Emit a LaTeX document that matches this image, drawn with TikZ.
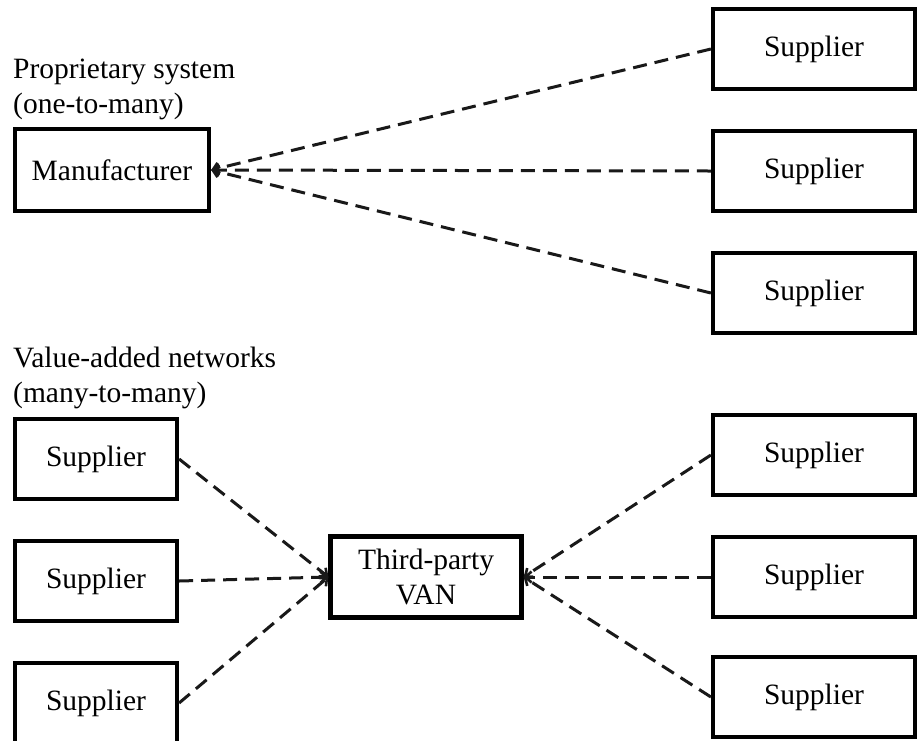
\documentclass[tikz,border=0pt]{standalone}
\usepackage{fontspec}
\setmainfont{Liberation Serif}
\usetikzlibrary{arrows.meta}
\begin{document}
\begin{tikzpicture}[x=1pt,y=-1pt,
  box/.style={draw=black,line width=4.2pt,fill=white,minimum height=80pt,inner sep=0pt,font=\fontsize{29.5}{32}\selectfont},
  wbox/.style={box,minimum width=202pt},
  sbox/.style={box,minimum width=162pt},
  link/.style={line width=3pt,dash pattern=on 14pt off 8pt,black!90,-{Straight Barb[length=6pt,width=11pt,line width=2.6pt]}},
  lbl/.style={anchor=base west,inner sep=0pt,font=\fontsize{29.5}{32}\selectfont}]
\useasboundingbox (0,0) rectangle (919,740);
\fill[white] (0,0) rectangle (919,740);
% labels
\node[lbl] (t1) at (13,78) {Proprietary system};
\node[lbl] (t2) at (13,113) {(one-to-many)};
\node[lbl] (t3) at (13,367) {Value-added networks};
\node[lbl] (t4) at (13,402) {(many-to-many)};
% top part
\node[box,minimum width=194pt,minimum height=82pt] (man) at (112,170) {Manufacturer};
\node[wbox] (s1) at (814,49) {Supplier};
\node[wbox] (s2) at (814,171) {Supplier};
\node[wbox] (s3) at (814,293) {Supplier};
% bottom part
\node[box,minimum width=191pt,minimum height=81pt,align=center,font=\fontsize{29.5}{35}\selectfont] (van) at (426,577) {Third-party\\VAN};
\node[sbox] (l1) at (96,459) {Supplier};
\node[sbox] (l2) at (96,581) {Supplier};
\node[sbox] (l3) at (96,703) {Supplier};
\node[wbox] (r1) at (814,455) {Supplier};
\node[wbox] (r2) at (814,577) {Supplier};
\node[wbox] (r3) at (814,697) {Supplier};
% connectors
\draw[link] (s1.west) -- (man.east);
\draw[link] (s2.west) -- (man.east);
\draw[link] (s3.west) -- (man.east);
\draw[link] (l1.east) -- (van.west);
\draw[link] (l2.east) -- (van.west);
\draw[link] (l3.east) -- (van.west);
\draw[link] (r1.west) -- (van.east);
\draw[link] (r2.west) -- (van.east);
\draw[link] (r3.west) -- (van.east);
\end{tikzpicture}
\end{document}
